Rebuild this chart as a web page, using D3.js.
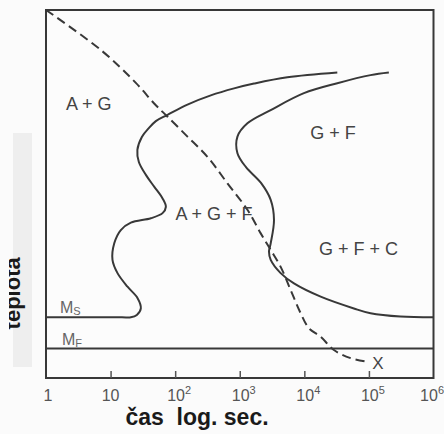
<!DOCTYPE html>
<html><head><meta charset="utf-8">
<script src="https://cdn.jsdelivr.net/npm/d3@7"></script>
<style>body{margin:0;background:#fbfbfb;overflow:hidden}svg{display:block}</style>
</head><body>
<svg id="c" width="444" height="434"></svg>
<script>
// ---- data ----
const xTickValues = [1, 10, 100, 1000, 10000, 100000, 1000000];
const xTickBase = ["1", "10", "10", "10", "10", "10", "10"];
const xTickExp = ["", "", "2", "3", "4", "5", "6"];
const xTitle = "čas  log. sec.";
const yTitle = "teplota";

const msTemp = 16.5;   // M_S level
const mfTemp = 8;      // M_F level

// start-of-transformation curve (time s, temperature units); begins along M_S
const startCurve = [[1,16.5],[15,16.5],[20.6,16.5],[25.5,17.1],[29.4,18.9],[26.2,21.7],[18.3,24.8],[12.8,28.5],[10.7,32.1],[11.4,36.6],[14.4,40.2],[20.6,42.2],[42,43.4],[63.8,44.8],[71.8,46.5],[63.8,48.8],[47.3,52.0],[35.2,55.2],[27.4,58.7],[26,62.0],[30.5,65.5],[39.1,67.9],[50.2,69.8],[76.2,71.5],[155,74.3],[356,76.8],[816,78.7],[1663,80.0],[5460,81.7],[32400,83.0]];
// end-of-transformation curve
const endCurve = [[203500,83.0],[106000,82.3],[32400,80.1],[9860,77.4],[3015,72.8],[1314,69.2],[921,65.6],[921,61.1],[1250,57.3],[2133,53.0],[3015,48.4],[3390,42.9],[3015,36.6],[2838,34.3],[3015,32.1],[4300,28.5],[6910,25.7],[17900,22.1],[58500,18.9],[106000,17.6],[308000,16.7],[1000000,16.5]];
// cooling curve (dashed)
const coolingCurve = [[1,100],[7.1,89.1],[24.6,80.2],[47.3,74.6],[76.2,71.0],[155,65.6],[316,60.1],[645,52.9],[1314,45.7],[2113,39.3],[3015,34.8],[4300,30.2],[6140,23.9],[8770,17.6],[11800,13.5],[17900,11.2],[28700,7.6],[52000,5.4],[94200,4.4]];

const regionNames = ["A + G", "G + F", "A + G + F", "G + F + C"];
const regionTime = [4.6, 27900, 400, 69200];
const regionTemp = [74.6, 66.8, 44.6, 35.3];

// ---- drawing ----
const svg = d3.select("#c");
const x = d3.scaleLog().domain([1, 1e6]).range([46, 433.5]);
const y = d3.scaleLinear().domain([0, 100]).range([378, 10]);
const ink = "#383838";

svg.append("rect").attr("x", 13).attr("y", 133).attr("width", 19).attr("height", 234).attr("fill", "#eeeeee");

svg.append("defs").append("clipPath").attr("id", "yclip")
  .append("rect").attr("x", 9).attr("y", 0).attr("width", 40).attr("height", 434);

// frame
svg.append("rect").attr("x", x(1)).attr("y", y(100))
  .attr("width", x(1e6) - x(1)).attr("height", y(0) - y(100))
  .attr("fill", "#fcfcfc").attr("stroke", ink).attr("stroke-width", 2);

// inward ticks
const ax = svg.append("g").attr("transform", `translate(0,${y(0)})`)
  .call(d3.axisBottom(x).tickValues(xTickValues.slice(1, -1)).tickSizeInner(-7).tickSizeOuter(0).tickFormat(() => ""));
ax.select(".domain").remove();
ax.selectAll(".tick line").attr("stroke", "#555").attr("stroke-width", 1.5);

// tick labels
const lab = svg.append("g").attr("font-family", "Liberation Sans, Arial, sans-serif").attr("fill", "#555");
xTickValues.forEach((v, i) => {
  const last = i === xTickValues.length - 1;
  const t = lab.append("text").attr("y", 401).attr("font-size", 16)
    .attr("text-anchor", last ? "end" : "middle")
    .attr("x", last ? 444 : x(v) + (i === 0 ? 2 : (xTickExp[i] ? 4 : 0)));
  t.append("tspan").text(xTickBase[i]);
  if (xTickExp[i]) t.append("tspan").attr("font-size", 11).attr("dy", -7).text(xTickExp[i]);
});

// axis titles
svg.append("text").attr("x", 197).attr("y", 425).attr("text-anchor", "middle")
  .attr("font-family", "Liberation Sans, Arial, sans-serif").attr("font-weight", "bold")
  .attr("font-size", 23).attr("fill", "#1a1a1a").attr("xml:space", "preserve").text(xTitle);
svg.append("g").attr("clip-path", "url(#yclip)").append("text")
  .attr("transform", `translate(20,${y(23)}) rotate(-90)`).attr("text-anchor", "middle")
  .attr("font-family", "Liberation Sans, Arial, sans-serif").attr("font-weight", "bold")
  .attr("font-size", 22).attr("fill", "#1a1a1a").text(yTitle);

// Mf line (Ms is the flat start of startCurve)
svg.append("line").attr("x1", x(1)).attr("x2", x(1e6)).attr("y1", y(mfTemp)).attr("y2", y(mfTemp))
  .attr("stroke", ink).attr("stroke-width", 2);

const line = d3.line().x(d => x(d[0])).y(d => y(d[1])).curve(d3.curveCatmullRom.alpha(0.5));
svg.append("path").datum(startCurve).attr("d", line).attr("fill", "none").attr("stroke", ink).attr("stroke-width", 2);
svg.append("path").datum(endCurve).attr("d", line).attr("fill", "none").attr("stroke", ink).attr("stroke-width", 2);
svg.append("path").datum(coolingCurve).attr("d", line).attr("fill", "none").attr("stroke", ink)
  .attr("stroke-width", 2).attr("stroke-dasharray", "9,5");

// labels
const tl = svg.append("g").attr("font-family", "Liberation Sans, Arial, sans-serif").attr("fill", "#444");
regionNames.forEach((n, i) => {
  tl.append("text").attr("x", x(regionTime[i])).attr("y", y(regionTemp[i]) + 6.5)
    .attr("text-anchor", "middle").attr("font-size", 18).text(n);
});
const ms = tl.append("text").attr("x", 60).attr("y", y(msTemp) - 4).attr("font-size", 16).attr("fill", "#666");
ms.append("tspan").text("M");
ms.append("tspan").attr("font-size", 11).attr("dy", 2).text("S");
const mf = tl.append("text").attr("x", 62).attr("y", y(mfTemp) - 4).attr("font-size", 16).attr("fill", "#666");
mf.append("tspan").text("M");
mf.append("tspan").attr("font-size", 11).attr("dy", 2).text("F");
const endPt = coolingCurve[coolingCurve.length - 1];
tl.append("text").attr("x", x(endPt[0]) + 5).attr("y", y(endPt[1]) + 7).attr("font-size", 17).attr("fill", "#444").text("X");
</script>
</body></html>
